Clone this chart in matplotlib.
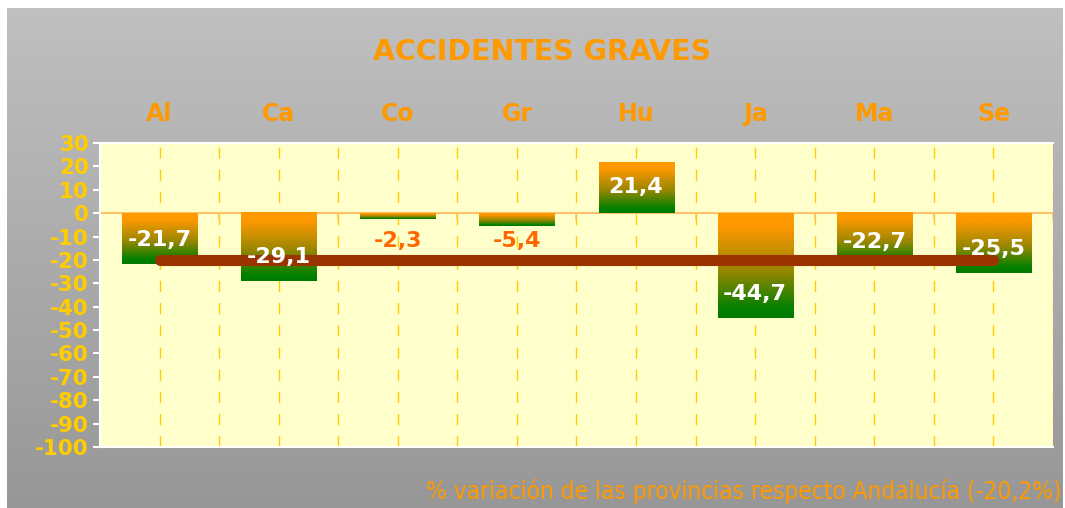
import numpy as np
import matplotlib.pyplot as plt
from matplotlib.colors import LinearSegmentedColormap

provincias = ['Al', 'Ca', 'Co', 'Gr', 'Hu', 'Ja', 'Ma', 'Se']
variacion = [-21.7, -29.1, -2.3, -5.4, 21.4, -44.7, -22.7, -25.5]
andalucia = -20.2
y_ticks = list(range(-100, 31, 10))

orange = '#FF9900'
gold = '#FFCC00'
grad = LinearSegmentedColormap.from_list(
    'og', [(0, '#007a00'), (0.08, '#008000'), (0.45, '#988700'), (0.88, '#FF9900'), (1, '#FF9900')])

fig = plt.figure(figsize=(10.65, 5.08), dpi=100)
fig.patch.set_facecolor('white')

# gray gradient background
bg = fig.add_axes([0.0066, 0.0, 0.991, 0.985])
bg.imshow(np.linspace(0, 1, 256).reshape(-1, 1), cmap=LinearSegmentedColormap.from_list('g', ['#c0c0c0', '#979797']),
          aspect='auto', extent=[0, 1, 0, 1], origin='upper')
bg.set_axis_off()

ax = fig.add_axes([0.0939, 0.1201, 0.8948, 0.5984])
ax.set_facecolor('#FFFFCC')
x = np.arange(len(provincias))
ax.set_xlim(-0.5, len(provincias) - 0.5)
ax.set_ylim(-100, 30)

# dashed vertical lines (centres and boundaries)
for xv in np.arange(-0.5, len(provincias), 0.5)[1:]:
    ax.axvline(xv, color=gold, lw=1, ls=(0, (8, 8)), zorder=1)

ax.axhline(0, color='#FFC266', lw=1.5, zorder=2)
for xb in np.arange(0.5, len(provincias), 1.0):
    ax.plot([xb, xb], [0, -2.5], color='#FFC266', lw=1.2, zorder=2)

bars = ax.bar(x, variacion, width=0.63, color='none', zorder=3)
for b in bars:
    x0, w = b.get_x(), b.get_width()
    lo, hi = sorted([0, b.get_height()])
    ax.imshow(np.linspace(0, 1, 100).reshape(-1, 1), cmap=grad, aspect='auto',
              extent=[x0, x0 + w, lo, hi], origin='lower', zorder=3)
ax.set_aspect('auto')

ax.plot([x[0], x[-1]], [andalucia, andalucia], color='#993300', lw=8,
        solid_capstyle='round', zorder=4)

for xi, v in zip(x, variacion):
    txt = f'{v:.1f}'.replace('.', ',')
    if abs(v) < 10:
        ax.text(xi, -11.8, txt, ha='center', va='center', color='#FF6600',
                fontsize=16, fontweight='bold', zorder=5)
    else:
        ax.text(xi, v - np.sign(v) * 10.2, txt, ha='center', va='center', color='white',
                fontsize=16, fontweight='bold', zorder=5)

ax.set_yticks(y_ticks)
ax.set_yticklabels([str(t) for t in y_ticks], color=gold, fontsize=15.5, fontweight='bold')
ax.tick_params(axis='y', colors='white', length=5, width=1.5, labelcolor=gold, pad=3)
ax.set_xticks([])
for s in ['left', 'bottom', 'top']:
    ax.spines[s].set_color('white')
    ax.spines[s].set_linewidth(1.5)
ax.spines['right'].set_visible(False)

for xi, p in zip(x, provincias):
    ax.text(xi, 1.095, p, transform=ax.get_xaxis_transform(), ha='center', va='center',
            color=orange, fontsize=17, fontweight='bold')

fig.text(0.509, 0.898, 'ACCIDENTES GRAVES', ha='center', va='center', color=orange,
         fontsize=20.5, fontweight='bold')
fig.text(0.997, 0.032, '% variación de las provincias respecto Andalucía (-20,2%)', ha='right',
         va='center', color=orange, fontsize=17.5, fontstretch='condensed',
         family=['DejaVu Sans'])

fig.savefig('out.png', dpi=100)
